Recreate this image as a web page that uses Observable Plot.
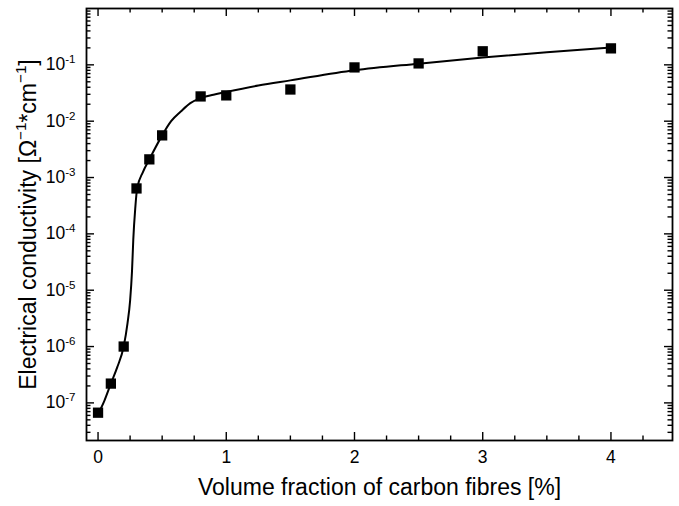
<!DOCTYPE html>
<html>
<head>
<meta charset="utf-8">
<script src="https://cdn.jsdelivr.net/npm/d3@7"></script>
<script src="https://cdn.jsdelivr.net/npm/@observablehq/plot@0.6"></script>
<style>
  html, body { margin: 0; padding: 0; background: #fff; }
  #chart svg { display: block; }
</style>
</head>
<body>
<div id="chart"></div>
<script>
// Measured points: volume fraction (%) and conductivity (S/cm)
const fraction = [0, 0.1, 0.2, 0.3, 0.4, 0.5, 0.8, 1.0, 1.5, 2.0, 2.5, 3.0, 4.0];
const conductivity = [6.7e-8, 2.2e-7, 1.0e-6, 6.4e-4, 2.1e-3, 5.6e-3, 0.0275, 0.0287, 0.0365, 0.090, 0.106, 0.174, 0.196];

// Fitted curve
const fitFraction = [0, 0.05, 0.1, 0.15, 0.2, 0.23, 0.25, 0.265, 0.275, 0.29, 0.305, 0.35, 0.4, 0.5, 0.57, 0.645, 0.72, 0.8, 0.9, 1.0, 1.25, 1.5, 2.0, 2.5, 3.0, 3.5, 4.0];
const fitConductivity = [6.3e-8, 1.1e-7, 2.2e-7, 4.3e-7, 1.0e-6, 2.6e-6, 6.5e-6, 2.2e-5, 8e-5, 2.8e-4, 6.4e-4, 1.25e-3, 2.1e-3, 5.6e-3, 0.0100, 0.0148, 0.0209, 0.0257, 0.0295, 0.0331, 0.043, 0.053, 0.080, 0.105, 0.135, 0.168, 0.204];

// Ticks and labels
const xMajorTicks = [0, 1, 2, 3, 4];
const xMinorTicks = [0.25, 0.5, 0.75, 1.25, 1.5, 1.75, 2.25, 2.5, 2.75, 3.25, 3.5, 3.75, 4.25];
const yMajorTicks = [1e-7, 1e-6, 1e-5, 1e-4, 1e-3, 1e-2, 1e-1];
const yDomain = [2.15e-8, 1.0];
const xDomain = [-0.09, 4.48];
const yMinorTicks = [];
for (let k = -8; k <= -1; k++) for (let m = 2; m <= 9; m++) {
  const v = m * Math.pow(10, k);
  if (v > yDomain[0] && v < yDomain[1]) yMinorTicks.push(v);
}
const xTitle = "Volume fraction of carbon fibres [%]";
const yTitle = "Electrical conductivity [Ω{−1}*cm{−1}]";

const W = 679, H = 506;
const mL = 86, mR = 7, mT = 8, mB = 66;
const innerW = W - mL - mR, innerH = H - mT - mB;
const majorLen = 8, minorLen = 4.5;
const tickStyle = {stroke: "#000", strokeWidth: 1.4};

const fit = fitFraction.map((x, i) => ({x, y: fitConductivity[i]}));
const pts = fraction.map((x, i) => ({x, y: conductivity[i]}));

const svg = Plot.plot({
  width: W, height: H,
  marginLeft: mL, marginRight: mR, marginTop: mT, marginBottom: mB,
  style: {fontFamily: "'Liberation Sans', Arial, sans-serif", background: "#fff", color: "#000"},
  x: {domain: xDomain},
  y: {type: "log", domain: yDomain},
  marks: [
    // inward ticks: bottom, top
    Plot.ruleX(xMajorTicks, {x: d => d, insetTop: innerH - majorLen, ...tickStyle}),
    Plot.ruleX(xMajorTicks, {x: d => d, insetBottom: innerH - majorLen, ...tickStyle}),
    Plot.ruleX(xMinorTicks, {x: d => d, insetTop: innerH - minorLen, ...tickStyle}),
    Plot.ruleX(xMinorTicks, {x: d => d, insetBottom: innerH - minorLen, ...tickStyle}),
    // inward ticks: left, right
    Plot.ruleY(yMajorTicks, {y: d => d, insetRight: innerW - majorLen, ...tickStyle}),
    Plot.ruleY(yMajorTicks, {y: d => d, insetLeft: innerW - majorLen, ...tickStyle}),
    Plot.ruleY(yMinorTicks, {y: d => d, insetRight: innerW - minorLen, ...tickStyle}),
    Plot.ruleY(yMinorTicks, {y: d => d, insetLeft: innerW - minorLen, ...tickStyle}),
    Plot.frame({stroke: "#000", strokeWidth: 1.8}),
    Plot.axisX({ticks: xMajorTicks, tickSize: 0, tickPadding: 10, fontSize: 17.5, label: null, tickFormat: d => String(d)}),
    Plot.axisY({ticks: yMajorTicks, tickSize: 0, tickPadding: 11, fontSize: 17.5, label: null,
      tickFormat: d => "10{" + Math.round(Math.log10(d)) + "}"}),
    Plot.line(fit, {x: "x", y: "y", curve: "monotone-x", stroke: "#000", strokeWidth: 2}),
    Plot.dot(pts, {x: "x", y: "y", symbol: "square", r: 5.8, fill: "#000", stroke: "none"}),
    Plot.text([xTitle], {frameAnchor: "bottom", dy: 54, fontSize: 23, fill: "#000", textAnchor: "middle"}),
    Plot.text([yTitle], {frameAnchor: "left", dx: -58, rotate: -90, fontSize: 23, fill: "#000", textAnchor: "middle"})
  ]
});

// turn {..} markers into superscript tspans
d3.select(svg).selectAll("text").each(function() {
  const node = this;
  const s = node.textContent;
  if (!/\{[^}]*\}/.test(s)) return;
  const parts = s.split(/(\{[^}]*\})/).filter(p => p.length);
  while (node.firstChild) node.removeChild(node.firstChild);
  const sel = d3.select(node);
  let raised = false;
  parts.forEach(p => {
    if (p.startsWith("{")) {
      sel.append("tspan").attr("font-size", "0.66em").attr("dy", "-0.62em").text(p.slice(1, -1));
      raised = true;
    } else {
      const t = sel.append("tspan").text(p);
      if (raised) { t.attr("dy", "0.41em"); raised = false; }
    }
  });
});

document.getElementById("chart").appendChild(svg);
</script>
</body>
</html>
